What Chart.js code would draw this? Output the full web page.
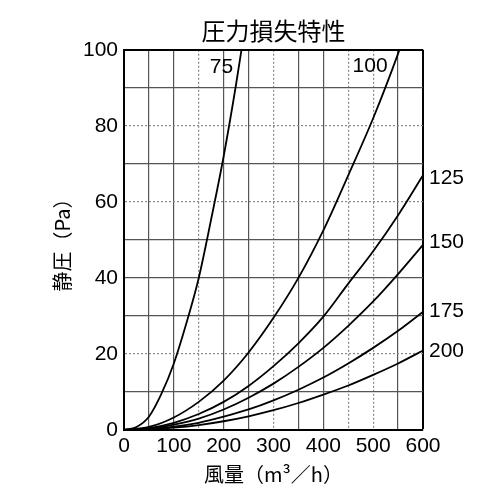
<!DOCTYPE html>
<html>
<head>
<meta charset="utf-8">
<title>圧力損失特性</title>
<script src="https://cdn.jsdelivr.net/npm/chart.js@4.4.1/dist/chart.umd.min.js"></script>
<style>
  html, body { margin: 0; padding: 0; background: #fff; }
  #wrap { width: 500px; height: 500px; }
</style>
</head>
<body>
<div id="wrap"><canvas id="loss-chart" width="500" height="500"></canvas></div>
<script>
// 風量 (m3/h)
const flow = [0, 50, 100, 150, 200, 250, 300, 350, 400, 450, 500, 550, 600];
const flow75 = [0, 25, 50, 75, 100, 125, 150, 175, 200, 225, 250];

// 静圧 (Pa) per duct size
const p75 = [0, 0.8, 3.5, 9.5, 17.5, 28, 40, 55.5, 72, 91, 112];
const p100 = [0, 0.8, 3.3, 7.4, 13, 20.4, 29.5, 40, 52.5, 67, 82, 99, 118];
const p125 = [0, 0.5, 1.9, 4.2, 7.4, 11.6, 16.8, 22.8, 29.8, 38.5, 47, 56.5, 67];
const p150 = [0, 0.3, 1.4, 3, 5.4, 8.5, 12.2, 16.6, 21.6, 27.4, 33.8, 41, 48.7];
const p175 = [0, 0.2, 0.9, 1.9, 3.5, 5.4, 7.8, 10.6, 13.8, 17.5, 21.6, 26.1, 31.1];
const p200 = [0, 0.15, 0.6, 1.3, 2.3, 3.6, 5.2, 7.1, 9.3, 11.7, 14.5, 17.5, 20.9];

// which grid lines look dotted in the original
const dashedX = [150, 300, 450, 500];
const dashedY = [20, 60, 80];

// curve names and where their labels sit (data coords)
const curveLabels = [
  { text: '75', x: 219, y: 95.3, align: 'right' },
  { text: '100', x: 529, y: 95.6, align: 'right' },
  { text: '125', x: 600, y: 66.3, align: 'left' },
  { text: '150', x: 600, y: 49.5, align: 'left' },
  { text: '175', x: 600, y: 31.3, align: 'left' },
  { text: '200', x: 600, y: 20.8, align: 'left' },
];

const toPoints = (xs, ys) => ys.map((y, i) => ({ x: xs[i], y: y }));

const curve = (label, xs, ys) => ({
  label: label,
  data: toPoints(xs, ys),
  borderColor: '#000',
  borderWidth: 1.8,
  pointRadius: 0,
  fill: false,
  cubicInterpolationMode: 'monotone',
});

const labelFont = '21px "Liberation Sans", Arial, sans-serif';
const cjkFont = '"Noto Sans CJK JP", "Noto Sans CJK SC", sans-serif';

const curveLabelPlugin = {
  id: 'curveLabels',
  afterDatasetsDraw(chart) {
    const { ctx, scales } = chart;
    ctx.save();
    ctx.font = labelFont;
    ctx.fillStyle = '#000';
    ctx.textBaseline = 'middle';
    curveLabels.forEach((l) => {
      ctx.textAlign = l.align;
      const px = scales.x.getPixelForValue(l.x) + (l.align === 'left' ? 6 : 0);
      ctx.fillText(l.text, px, scales.y.getPixelForValue(l.y));
    });
    ctx.restore();
  },
};

(function () {
  Chart.defaults.font.family = '"Liberation Sans", Arial, sans-serif';
  Chart.defaults.color = '#000';

  new Chart(document.getElementById('loss-chart'), {
    type: 'line',
    plugins: [curveLabelPlugin],
    data: {
      datasets: [
        curve('75', flow75, p75),
        curve('100', flow, p100),
        curve('125', flow, p125),
        curve('150', flow, p150),
        curve('175', flow, p175),
        curve('200', flow, p200),
      ],
    },
    options: {
      responsive: false,
      animation: false,
      layout: {
        padding: { left: 0, right: 77, top: 0, bottom: 0 },
      },
      plugins: {
        legend: { display: false },
        tooltip: { enabled: false },
        title: {
          display: true,
          text: '圧力損失特性',
          fullSize: false,
          color: '#000',
          font: { family: cjkFont, size: 24, weight: 'normal' },
          padding: { top: 16, bottom: 5 },
        },
      },
      scales: {
        x: {
          type: 'linear',
          min: 0,
          max: 600,
          afterFit: (scale) => { scale.height = 70; },
          ticks: {
            stepSize: 50,
            autoSkip: false,
            maxRotation: 0,
            padding: 4,
            font: { size: 21 },
            callback: (v) => (v % 100 === 0 ? v : ''),
          },
          grid: {
            drawTicks: false,
            color: (ctx) => {
              if (!ctx.tick) return '#555';
              if (ctx.tick.value === 600) return '#000';
              return dashedX.includes(ctx.tick.value) ? '#888' : '#555';
            },
            lineWidth: (ctx) => (ctx.tick && ctx.tick.value === 600 ? 2 : 1.2),
          },
          border: {
            color: '#000',
            width: 2,
            dash: (ctx) => (ctx.tick && dashedX.includes(ctx.tick.value) ? [2, 2] : []),
          },
          title: {
            display: true,
            text: '風量（m³／h）',
            font: { family: cjkFont, size: 20 },
            padding: { top: 0, bottom: 14 },
          },
        },
        y: {
          min: 0,
          max: 100,
          afterFit: (scale) => { scale.width = 124; },
          ticks: {
            stepSize: 10,
            autoSkip: false,
            padding: 6,
            font: { size: 21 },
            callback: (v) => (v % 20 === 0 ? v : ''),
          },
          grid: {
            drawTicks: false,
            color: (ctx) => {
              if (!ctx.tick) return '#555';
              if (ctx.tick.value === 100) return '#000';
              return dashedY.includes(ctx.tick.value) ? '#888' : '#555';
            },
            lineWidth: (ctx) => (ctx.tick && ctx.tick.value === 100 ? 2 : 1.2),
          },
          border: {
            color: '#000',
            width: 2,
            dash: (ctx) => (ctx.tick && dashedY.includes(ctx.tick.value) ? [2, 2] : []),
          },
          title: {
            display: true,
            text: '静圧（Pa）',
            font: { family: cjkFont, size: 20 },
            padding: { top: 50, bottom: 0 },
          },
        },
      },
    },
  });
})();
</script>
</body>
</html>
